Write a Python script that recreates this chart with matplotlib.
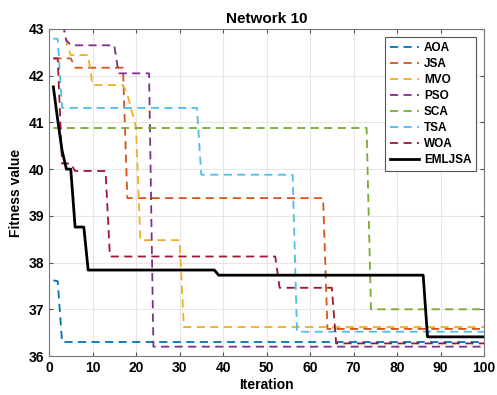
import numpy as np
import matplotlib
matplotlib.use('Agg')
import matplotlib.pyplot as plt

plt.rcParams['font.family'] = ['Liberation Sans', 'DejaVu Sans']
plt.rcParams['font.weight'] = 'bold'

# значения кривых сходимости: уровень ступени и число итераций на нём
aoa_vals = [37.62, 37.60, 36.30]
aoa_runs = [1, 1, 98]
jsa_vals = [42.37, 42.17, 39.38, 36.58]
jsa_runs = [5, 12, 46, 37]
mvo_vals = [43.2, 42.7, 42.44, 41.8, 41.6, 41.25, 40.9, 38.48, 36.62]
mvo_runs = [3, 1, 5, 8, 1, 1, 1, 10, 70]
pso_vals = [43.2, 42.76, 42.65, 42.05, 36.2]
pso_runs = [3, 1, 11, 8, 77]
sca_vals = [40.88, 37.0]
sca_runs = [73, 27]
tsa_vals = [42.79, 41.31, 39.88, 36.52]
tsa_runs = [2, 32, 22, 44]
woa_vals = [42.37, 40.12, 39.96, 38.13, 37.46, 36.27]
woa_runs = [2, 3, 8, 39, 13, 35]
emljsa_vals = [41.76, 41.05, 40.4, 40.0, 38.76, 37.84, 37.73, 36.41]
emljsa_runs = [1, 1, 1, 2, 3, 30, 48, 14]

names = ['AOA', 'JSA', 'MVO', 'PSO', 'SCA', 'TSA', 'WOA']
colors = ['#0072BD', '#D95319', '#EDB120', '#7E2F8E', '#77AC30', '#4DBEEE', '#A2142F']
series = [(aoa_vals, aoa_runs), (jsa_vals, jsa_runs), (mvo_vals, mvo_runs),
          (pso_vals, pso_runs), (sca_vals, sca_runs), (tsa_vals, tsa_runs),
          (woa_vals, woa_runs)]

iters = np.arange(1, 101)

fig = plt.figure(figsize=(4.97, 3.95), dpi=100)
ax = fig.add_axes([0.0986, 0.0987, 0.8754, 0.828])

for name, col, (vals, runs) in zip(names, colors, series):
    ax.plot(iters, np.repeat(vals, runs), color=col, lw=1.3,
            linestyle=(0, (4.5, 3)), label=name)
ax.plot(iters, np.repeat(emljsa_vals, emljsa_runs), color='black', lw=2, label='EMLJSA')

ax.set_xlim(0, 100)
ax.set_ylim(36, 43)
ax.set_xticks(range(0, 101, 10))
ax.set_yticks(range(36, 44))
ax.grid(True, color='#e6e6e6', lw=0.8)
ax.set_axisbelow(True)
ax.tick_params(direction='in', top=True, right=True, labelsize=10, length=3,
               color='#555555')
for sp in ax.spines.values():
    sp.set_color('#777777')
    sp.set_linewidth(0.8)

ax.set_title('Network 10', fontsize=11, fontweight='bold', pad=4)
ax.set_xlabel('Iteration', fontsize=10, fontweight='bold', labelpad=2)
ax.set_ylabel('Fitness value', fontsize=10, fontweight='bold', labelpad=4)

leg = ax.legend(loc='upper right', fontsize=8.5, handlelength=2.5, fancybox=False,
                framealpha=1, edgecolor='#555555', borderpad=0.4,
                labelspacing=0.34, handletextpad=0.4, borderaxespad=0,
                bbox_to_anchor=(0.982, 0.975))
leg.get_frame().set_linewidth(0.8)

fig.savefig('out.png', dpi=100)
